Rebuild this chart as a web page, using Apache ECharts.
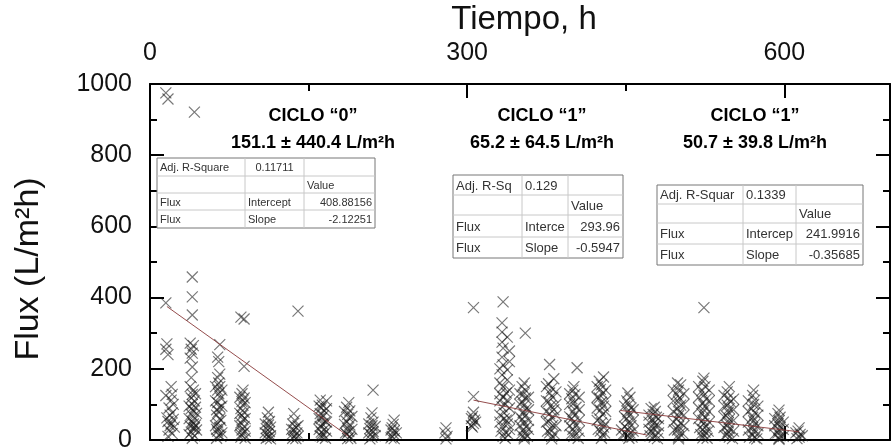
<!DOCTYPE html>
<html><head><meta charset="utf-8">
<script src="https://cdn.jsdelivr.net/npm/echarts@6/dist/echarts.min.js"></script>
<style>html,body{margin:0;padding:0;background:#fff}#c{width:893px;height:448px}</style>
</head><body><div id="c"></div>
<script>
// ---------- DATA ----------
const xTicks = [0, 300, 600];
const yTicks = [0, 200, 400, 600, 800, 1000];

const cycle0Points = [
 [15,975],[17,958],[15,385],[16,270],[15,255],[17,240],[15,125],[16,62],[20,150],[21,128],[20,112],[22,100],[21,76],[22,58],[20,46],[23,36],
 [18,90],[19,70],[17,52],[19,40],[18,28],[21,18],[17,10],
 [42,921],[40,458],[40,402],[40,351],[38,272],[41,265],[39,255],[40,244],[38,230],[40,205],[39,175],[38,150],[41,140],[40,128],[39,118],[42,110],[40,100],[43,92],[41,82],[39,72],[42,62],[40,52],[43,42],[41,32],[39,22],[42,12],[40,5],
 [37,95],[43,130],[37,60],[44,75],[38,40],[44,28],[37,15],[41,45],[39,88],[42,35],
 [66,268],[64,233],[65,220],[66,185],[64,175],[65,160],[66,150],[64,140],[65,130],[67,118],[64,105],[66,92],[65,80],[63,70],[66,60],[64,48],[66,35],[64,25],[65,14],[63,5],
 [62,150],[68,140],[62,110],[68,95],[63,85],[67,55],[62,40],[68,20],[63,30],[67,10],
 [86,345],[89,340],[89,207],[88,140],[87,130],[89,118],[87,108],[88,98],[86,88],[89,78],[87,68],[88,58],[86,48],[89,38],[87,28],[88,18],[86,8],
 [85,120],[90,105],[85,75],[90,60],[85,40],[90,25],[86,15],[90,5],
 [112,78],[111,62],[113,52],[112,42],[110,32],[113,24],[111,16],[112,8],[114,3],
 [109,45],[114,36],[109,20],[114,12],[110,5],
 [140,362],[136,74],[137,55],[135,45],[138,36],[136,28],[139,20],[137,12],[135,5],
 [134,30],[140,40],[134,15],[140,10],[138,4],
 [161,112],[167,110],[163,98],[162,90],[165,82],[161,74],[164,68],[162,60],[166,52],[163,45],[161,38],[165,30],[162,22],[164,15],[163,8],
 [160,95],[167,88],[160,60],[167,50],[160,30],[167,25],[161,12],[166,5],
 [188,105],[186,92],[189,82],[187,72],[188,62],[186,52],[189,42],[187,32],[188,24],[186,16],[189,10],[187,4],
 [184,80],[191,66],[184,44],[191,30],[185,20],[190,5],
 [211,140],[210,76],[209,62],[211,50],[210,40],[208,32],[211,24],[209,16],[210,8],
 [207,45],[213,38],[207,20],[213,12],[208,3],
 [231,56],[230,44],[229,34],[231,26],[230,18],[229,10],[231,4],
 [228,28],[233,20],[228,6],
 [280,34],[279,20],[281,10],[280,3]
];
const cycle1Points = [
 [306,372],[306,122],[306,78],[305,66],[307,56],[306,46],[305,36],
 [304,60],[308,50],[304,40],
 [334,388],[333,329],[333,303],[338,289],[333,275],[334,258],[333,233],[334,211],[338,197],[333,183],[338,169],[334,149],[337,132],[338,112],[333,93],[335,76],[337,56],[333,37],[336,22],[334,10],[338,45],[335,60],[336,100],[334,120],
 [331,160],[340,140],[331,110],[340,90],[331,70],[340,60],[331,50],[340,30],[332,25],[339,15],[336,5],[331,130],[340,250],[331,200],[340,220],
 [355,300],[354,160],[352,150],[355,140],[353,128],[355,118],[352,108],[354,98],[356,88],[353,78],[355,68],[352,58],[354,48],[356,38],[353,28],[355,18],[354,8],
 [350,130],[358,120],[350,100],[358,85],[350,65],[358,55],[350,40],[358,30],[351,15],[357,10],[354,3],
 [378,212],[382,172],[377,158],[380,145],[378,132],[381,120],[377,108],[379,96],[382,85],[378,74],[380,63],[377,52],[381,41],[379,30],[378,20],[380,10],
 [375,150],[384,135],[375,110],[384,100],[375,80],[384,70],[375,50],[384,40],[376,25],[383,15],[380,3],
 [404,203],[401,150],[400,140],[402,128],[399,116],[401,104],[403,92],[400,80],[402,70],[399,60],[401,50],[403,40],[400,30],[402,20],[401,10],
 [397,130],[406,120],[397,100],[406,85],[397,65],[406,55],[397,40],[406,25],[398,15],[405,5],
 [429,177],[425,165],[427,155],[426,142],[428,130],[425,118],[427,106],[429,95],[426,84],[428,72],[425,60],[427,48],[429,36],[426,25],[428,14],
 [423,150],[431,140],[423,120],[431,110],[423,90],[431,80],[423,55],[431,45],[424,30],[430,20],[427,5]
];
const cycle2Points = [
 [452,132],[454,120],[451,110],[453,100],[455,90],[452,80],[454,70],[451,60],[453,50],[455,40],[452,30],[454,20],[452,12],[453,5],[446,28],[447,14],
 [449,95],[457,85],[449,65],[457,55],[449,38],[457,25],[450,18],[456,8],
 [477,92],[474,88],[478,80],[476,72],[479,64],[475,56],[477,48],[478,40],[476,32],[474,24],[478,16],[477,8],
 [472,70],[481,60],[472,50],[481,40],[472,30],[481,20],[473,12],[480,4],
 [499,160],[502,155],[500,140],[498,128],[501,118],[500,108],[502,98],[499,88],[501,78],[500,68],[498,58],[502,48],[500,38],[499,28],[501,18],[500,8],
 [495,140],[505,130],[495,110],[505,100],[495,80],[505,70],[495,50],[505,40],[496,28],[504,18],[500,3],
 [524,372],[524,174],[523,165],[525,150],[522,138],[524,126],[526,115],[523,104],[525,94],[524,84],[522,74],[525,64],[523,55],[524,46],[526,38],[523,30],[525,22],[524,14],[523,6],
 [519,150],[529,140],[519,120],[529,110],[519,90],[529,80],[519,60],[529,50],[520,35],[528,25],[521,15],[527,5],
 [548,150],[546,135],[547,118],[549,108],[546,98],[548,88],[547,78],[545,68],[548,58],[547,48],[546,40],[548,32],[547,24],[546,16],[548,8],
 [543,125],[552,115],[543,95],[552,85],[543,65],[552,55],[543,35],[552,25],[544,12],[551,4],
 [571,140],[570,125],[572,112],[571,100],[569,88],[572,76],[570,64],[571,54],[572,44],[570,34],[571,24],[570,14],[572,6],
 [566,110],[575,95],[566,80],[575,70],[566,50],[575,40],[566,28],[575,18],[567,8],[574,3],
 [595,84],[594,74],[596,64],[595,54],[594,45],[596,36],[595,28],[594,20],[596,12],[595,5],
 [591,60],[599,50],[591,40],[599,30],[591,16],[599,10],[595,2],
 [614,34],[613,25],[615,16],[614,8],
 [611,20],[617,12],[612,4]
];

// regression line end points (hours, flux)
const fit0 = [[16,375],[188,10]];
const fit1 = [[306,112],[470,14]];
const fit2 = [[445,83],[614,23]];

const cycleTitles = ['CICLO \u201C0\u201D', 'CICLO \u201C1\u201D', 'CICLO \u201C1\u201D'];
const cycleMeans = ['151.1 \u00B1 440.4 L/m\u00B2h', '65.2 \u00B1 64.5 L/m\u00B2h', '50.7 \u00B1 39.8 L/m\u00B2h'];

const table0 = [['Adj. R-Square','0.11711',''],['','','Value'],['Flux','Intercept','408.88156'],['Flux','Slope','-2.12251']];
const table1 = [['Adj. R-Sq','0.129',''],['','','Value'],['Flux','Interce','293.96'],['Flux','Slope','-0.5947']];
const table2 = [['Adj. R-Squar','0.1339',''],['','','Value'],['Flux','Intercep','241.9916'],['Flux','Slope','-0.35685']];

// ---------- RENDER ----------
const FONT = '"Liberation Sans", Arial, sans-serif';
const chart = echarts.init(document.getElementById('c'));

function makeTable(x0, y0, cols, rows, cells, fs, firstCenter) {
  const els = [];
  const W = cols.reduce((a,b)=>a+b,0), H = rows.reduce((a,b)=>a+b,0);
  els.push({type:'rect', shape:{x:x0,y:y0,width:W,height:H}, style:{fill:'#fff', stroke:'#777', lineWidth:1}, z:50});
  let yy = y0;
  for (let r=0;r<rows.length-1;r++){ yy += rows[r]; els.push({type:'line', shape:{x1:x0,y1:yy,x2:x0+W,y2:yy}, style:{stroke:'#c8c8c8',lineWidth:1}, z:51}); }
  let xx = x0;
  for (let c=0;c<cols.length-1;c++){ xx += cols[c]; els.push({type:'line', shape:{x1:xx,y1:y0,x2:xx,y2:y0+H}, style:{stroke:'#c8c8c8',lineWidth:1}, z:51}); }
  let ry = y0;
  for (let r=0;r<rows.length;r++){
    let cx = x0;
    for (let c=0;c<cols.length;c++){
      const t = cells[r][c];
      if (t) {
        let align='left', tx=cx+3;
        const isNum = c===2 && r>=2;
        if (isNum){ align='right'; tx=cx+cols[c]-3; }
        if (c===1 && r===0 && firstCenter){ align='center'; tx=cx+cols[c]/2; }
        els.push({type:'text', x:tx, y:ry+rows[r]/2+1, z:52,
          style:{text:t, font:fs+'px '+FONT, fill:'#333', textAlign:align, align:align, textVerticalAlign:'middle', verticalAlign:'middle'}});
      }
      cx += cols[c];
    }
    ry += rows[r];
  }
  return els;
}

function titleText(x, y, t) {
  return {type:'text', x:x, y:y, z:60, style:{text:t, font:'bold 18px '+FONT, fill:'#000', textAlign:'center', align:'center', textVerticalAlign:'middle', verticalAlign:'middle'}};
}

const graphics = [].concat(
  makeTable(157,158,[88,59,71],[18,17,17,18],table0,11,true),
  makeTable(453,175,[69,46,55],[20,20,22,21],table1,13,false),
  makeTable(657,185,[86,53,67],[19,19,21,21],table2,13,false),
  [titleText(313,116,cycleTitles[0]), titleText(313,143,cycleMeans[0]),
   titleText(542,116,cycleTitles[1]), titleText(542,143,cycleMeans[1]),
   titleText(755,116,cycleTitles[2]), titleText(755,143,cycleMeans[2])]
);

const xSym = 'path://M0,0L10,10M10,0L0,10';
const ptStyle = {color:'transparent', borderColor:'rgba(20,20,20,0.72)', borderWidth:1.2};
const axisLine = {show:true, onZero:false, lineStyle:{color:'#000', width:2}};
const tick = {show:true, inside:true, length:14, lineStyle:{color:'#000', width:2}};
const minor = {show:true, splitNumber:2, length:7, lineStyle:{color:'#000', width:2}};

function scatter(data){ return {type:'scatter', data:data, symbol:xSym, symbolSize:11, itemStyle:ptStyle, silent:true, z:3, xAxisIndex:0, yAxisIndex:0}; }
function fitLine(data){ return {type:'line', data:data, symbol:'none', lineStyle:{color:'#8a3a3a', width:1, opacity:0.9}, silent:true, z:4, xAxisIndex:0, yAxisIndex:0}; }

chart.setOption({
  animation:false,
  grid:{left:150, right:3, top:84, bottom:8, containLabel:false, outerBoundsMode:'none'},
  xAxis:[
    {type:'value', position:'top', min:0, max:700, interval:300,
     name:'Tiempo, h', nameLocation:'middle', nameGap:44,
     nameTextStyle:{fontSize:33, fontFamily:FONT, color:'#111', padding:[0,0,0,8]},
     axisLine:axisLine, axisTick:tick, minorTick:minor,
     axisLabel:{fontSize:25, fontFamily:FONT, color:'#111', margin:18, showMaxLabel:false, formatter:v=> xTicks.includes(v)?String(v):''},
     splitLine:{show:false}},
    {type:'value', position:'bottom', min:0, max:700, interval:300,
     axisLine:axisLine, axisTick:tick, minorTick:minor,
     axisLabel:{show:false}, splitLine:{show:false}}
  ],
  yAxis:[
    {type:'value', position:'left', min:0, max:1000, interval:200,
     name:'Flux (L/m\u00B2h)', nameLocation:'middle', nameGap:104, nameRotate:90,
     nameTextStyle:{fontSize:34, fontFamily:FONT, color:'#111', padding:[0,14,0,0]},
     axisLine:axisLine, axisTick:tick, minorTick:minor,
     axisLabel:{fontSize:25, fontFamily:FONT, color:'#111', margin:18, formatter:v=> yTicks.includes(v)?String(v):''},
     splitLine:{show:false}},
    {type:'value', position:'right', min:0, max:1000, interval:200,
     axisLine:axisLine, axisTick:tick, minorTick:minor,
     axisLabel:{show:false}, splitLine:{show:false}}
  ],
  series:[scatter(cycle0Points), scatter(cycle1Points), scatter(cycle2Points), fitLine(fit0), fitLine(fit1), fitLine(fit2)],
  graphic: graphics
});
</script></body></html>
